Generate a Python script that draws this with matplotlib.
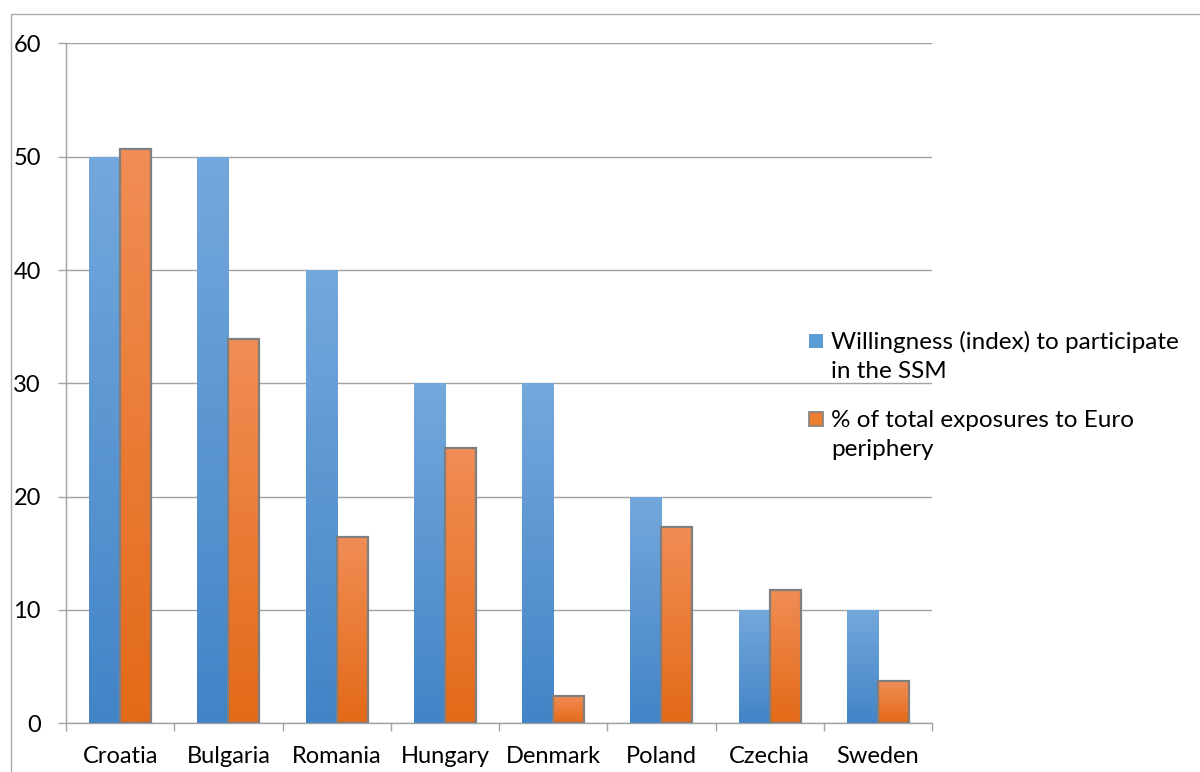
import numpy as np
import matplotlib
matplotlib.use("Agg")
import matplotlib.pyplot as plt
from matplotlib.patches import Rectangle
from matplotlib.colors import to_rgb

countries = ["Croatia", "Bulgaria", "Romania", "Hungary", "Denmark", "Poland", "Czechia", "Sweden"]
willingness = [50, 50, 40, 30, 30, 20, 10, 10]
exposure = [50.7, 33.9, 16.4, 24.3, 2.45, 17.3, 11.8, 3.7]
series_labels = [["Willingness (index) to participate", "in the SSM"],
                 ["% of total exposures to Euro", "periphery"]]
y_ticks = [0, 10, 20, 30, 40, 50, 60]

blue_top, blue_bottom = "#73A8DC", "#4384C7"
orange_top, orange_bottom = "#F18D55", "#E36A18"
grid_col = "#A3A3A3"

plt.rcParams["font.family"] = ["Lato", "DejaVu Sans"]

W, H = 1200, 772
fig = plt.figure(figsize=(W / 100, H / 100), dpi=100)
ax = fig.add_axes([0.055, 0.0631, 0.7217, 0.8806])

x = np.arange(len(countries))
w = 0.287


def gradient_bars(xpos, heights, top, bottom, edge):
    bars = ax.bar(xpos, heights, width=w, align="edge", facecolor="none",
                  edgecolor=edge if edge else "none", linewidth=1.6 if edge else 0,
                  zorder=4)
    c_top, c_bot = np.array(to_rgb(top)), np.array(to_rgb(bottom))
    t = np.linspace(0, 1, 64)[:, None]
    grad = (c_top * (1 - t) + c_bot * t)[:, None, :]
    for b in bars:
        x0, y0 = b.get_x(), b.get_y()
        im = ax.imshow(grad, extent=[x0, x0 + b.get_width(), y0, y0 + b.get_height()],
                       aspect="auto", interpolation="bilinear", origin="upper", zorder=3)
        clip = Rectangle((x0, y0), b.get_width(), b.get_height(), transform=ax.transData)
        im.set_clip_path(clip)
    return bars


gradient_bars(x - w, willingness, blue_top, blue_bottom, None)
gradient_bars(x, exposure, orange_top, orange_bottom, "#7F7F7F")

ax.set_xlim(-0.5, len(countries) - 0.5)
ax.set_ylim(0, 60)

ax.set_yticks(y_ticks)
ax.set_yticklabels([str(v) for v in y_ticks])
ax.yaxis.grid(True, color=grid_col, linewidth=1.0, zorder=0)
ax.set_axisbelow(True)
ax.tick_params(axis="y", length=6, color=grid_col, width=1.0, pad=12, labelsize=17)

ax.set_xticks(x)
ax.set_xticklabels(countries)
ax.set_xticks(np.arange(-0.5, len(countries)), minor=True)
ax.tick_params(axis="x", which="major", length=0, pad=16, labelsize=17)
ax.tick_params(axis="x", which="minor", length=5.5, color=grid_col, width=1.0)

for side in ("top", "right"):
    ax.spines[side].set_visible(False)
for side in ("left", "bottom"):
    ax.spines[side].set_color(grid_col)
    ax.spines[side].set_linewidth(1.0)

# legend: swatch aligned with the first line of each wrapped label
legend_swatches = [("#5B9BD5", "none"), ("#ED7D31", "#7F7F7F")]
entry_top = [342, 420]
for (face, edge), lines, yc in zip(legend_swatches, series_labels, entry_top):
    fig.add_artist(Rectangle((809 / W, 1 - (yc + 6) / H), 14 / W, 14 / H,
                             transform=fig.transFigure, facecolor=face,
                             edgecolor=edge, linewidth=1.2))
    for i, line in enumerate(lines):
        fig.text(831 / W, 1 - (yc + 30 * i) / H, line, fontsize=17.5,
                 ha="left", va="center")

# outer chart-area frame
fig.add_artist(Rectangle((11 / W, -0.05), 1.2, 1 - 14 / H + 0.05,
                         transform=fig.transFigure, facecolor="none",
                         edgecolor="#ABABAB", linewidth=1.0, zorder=0))

fig.savefig("out.png", dpi=100)
